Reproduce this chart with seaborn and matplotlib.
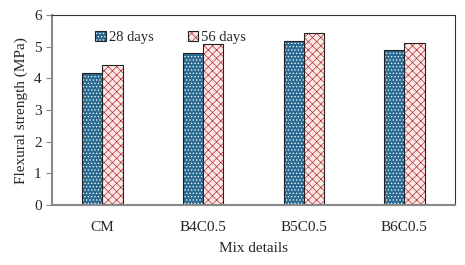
import pandas as pd
import seaborn as sns
import matplotlib.pyplot as plt

mixes = ["CM", "B4C0.5", "B5C0.5", "B6C0.5"]
days_28 = [4.17, 4.79, 5.19, 4.89]
days_56 = [4.42, 5.10, 5.44, 5.12]

df = pd.DataFrame({
    "mix": mixes * 2,
    "strength": days_28 + days_56,
    "age": ["28 days"] * 4 + ["56 days"] * 4,
})

sns.set_style("white")
plt.rcParams['font.family'] = ['Liberation Serif', 'DejaVu Serif']
plt.rcParams['hatch.linewidth'] = 0.5

fig = plt.figure(figsize=(4.65, 2.65), dpi=100)
ax = fig.add_axes([0.112, 0.226, 0.866, 0.717])

sns.barplot(data=df, x="mix", y="strength", hue="age",
            palette=["#1a6fa3", "#ffe4e4"], width=0.4, gap=0,
            edgecolor="#222222", linewidth=0.8, ax=ax)

# hatches: white dots on blue, red zigzag-ish on pink
styles = [(".....", "white"), ("xxxx", "#b03030")]
for cont, (h, hc) in zip(ax.containers, styles):
    for bar in cont:
        bar.set_hatch(h)
        bar._hatch_color = plt.matplotlib.colors.to_rgba(hc)

ax.set_ylim(0, 6)
ax.set_yticks(range(0, 7))
ax.set_xlim(-0.5, 3.5)
ax.set_xlabel("Mix details", fontsize=11, labelpad=6)
ax.set_ylabel("Flexural strength (MPa)", fontsize=11)
ax.tick_params(axis='y', labelsize=11, left=True, length=4, color="#888888")
ax.tick_params(axis='x', labelsize=11, bottom=False, pad=8)

for s in ["top", "right"]:
    ax.spines[s].set_color("#333333")
    ax.spines[s].set_linewidth(0.8)
for s in ["left", "bottom"]:
    ax.spines[s].set_color("#888888")
    ax.spines[s].set_linewidth(1.5)

leg = ax.legend(loc="upper left", bbox_to_anchor=(0.075, 0.985), ncol=2,
                frameon=False, fontsize=10.5, handlelength=0.7, handleheight=0.7,
                handletextpad=0.2, columnspacing=2.4)
for p, (h, hc) in zip(leg.get_patches(), styles):
    p.set_hatch(h)
    p._hatch_color = plt.matplotlib.colors.to_rgba(hc)

fig.savefig("out.png", dpi=100)
